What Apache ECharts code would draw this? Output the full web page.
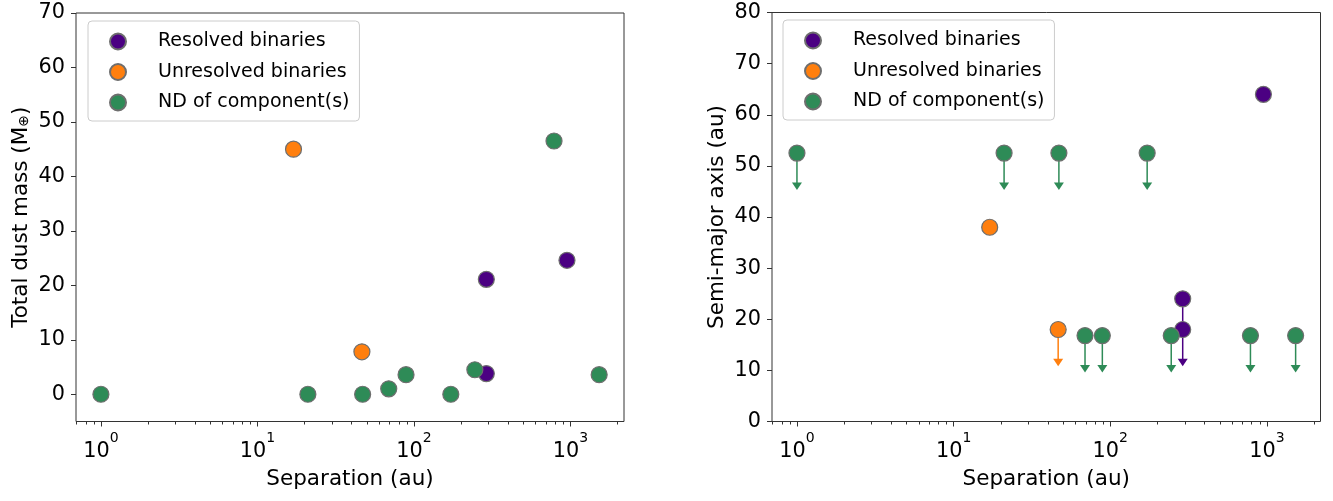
<!DOCTYPE html>
<html><head><meta charset="utf-8">
<script src="https://cdn.jsdelivr.net/npm/echarts@6/dist/echarts.min.js"></script>
<style>html,body{margin:0;padding:0;background:#fff}#c{width:1333px;height:501px}</style>
</head><body><div id="c"></div>
<script>
const FONT = '"DejaVu Sans", sans-serif';
const seriesNames = ['Resolved binaries', 'Unresolved binaries', 'ND of component(s)'];
const seriesColors = ['#4b0082', '#ff7f0e', '#2e8b57'];

// Left panel: total dust mass vs separation
const resolvedSepL = [290, 950, 290];
const resolvedMassL = [21.1, 24.6, 3.8];
const unresolvedSepL = [17, 46.5];
const unresolvedMassL = [45.0, 7.8];
const ndSepL = [1, 21, 47, 69, 89, 172, 245, 785, 1525];
const ndMassL = [0, 0, 0, 1.0, 3.6, 0, 4.5, 46.5, 3.6];

// Right panel: semi-major axis vs separation (1 = upper limit)
const resolvedSepR = [950, 290, 290];
const resolvedAxisR = [64, 24, 18];
const resolvedUpperR = [0, 1, 1];
const unresolvedSepR = [17, 46.5];
const unresolvedAxisR = [38, 18];
const unresolvedUpperR = [0, 1];
const ndSepR = [1, 21, 47, 172, 69, 89, 245, 785, 1525];
const ndAxisR = [52.5, 52.5, 52.5, 52.5, 16.8, 16.8, 16.8, 16.8, 16.8];
const ndUpperR = [1, 1, 1, 1, 1, 1, 1, 1, 1];
const upperArrowLen = 7.2;

// Axes
const xRange = [0.693, 2198];
const xMajorTicks = [1, 10, 100, 1000];
const xMinorTicks = [0.7, 0.8, 0.9, 2, 3, 4, 5, 6, 7, 8, 9, 20, 30, 40, 50, 60, 70, 80, 90,
  200, 300, 400, 500, 600, 700, 800, 900, 2000];
const yRangeL = [-5, 70];
const yTicksL = [0, 10, 20, 30, 40, 50, 60, 70];
const yRangeR = [0, 80];
const yTicksR = [0, 10, 20, 30, 40, 50, 60, 70, 80];
const xTitle = 'Separation (au)';
const yTitleL = ['Total dust mass (M', '⊕', ')'];
const yTitleR = 'Semi-major axis (au)';

const AX = '#333';
const TICK_FS = 20.8, TITLE_FS = 21.5, LEG_FS = 19;
const zip = (a, b) => a.map((v, i) => [v, b[i]]);

function majorX(grid) {
  return {
    type: 'log', logBase: 10, gridIndex: grid, position: 'bottom', min: xRange[0], max: xRange[1],
    axisLine: { show: false, onZero: false }, splitLine: { show: false }, minorTick: { show: false },
    axisTick: { show: true, length: 5, lineStyle: { color: AX, width: 1 }, customValues: xMajorTicks },
    axisLabel: {
      customValues: xMajorTicks, margin: 10,
      formatter: v => '{b|10}{s|' + Math.round(Math.log10(v)) + '}',
      rich: {
        b: { fontSize: TICK_FS, fontFamily: FONT, color: '#000', padding: [10, 0, 0, 0], verticalAlign: 'bottom' },
        s: { fontSize: 14, fontFamily: FONT, color: '#000', verticalAlign: 'top' }
      }
    },
    name: xTitle, nameLocation: 'middle', nameGap: 47,
    nameTextStyle: { fontSize: TITLE_FS, fontFamily: FONT, color: '#000' }
  };
}
function minorX(grid) {
  return {
    type: 'log', logBase: 10, gridIndex: grid, position: 'bottom', min: xRange[0], max: xRange[1],
    axisLine: { show: false, onZero: false }, splitLine: { show: false }, axisLabel: { show: false },
    axisTick: { show: true, length: 3, lineStyle: { color: AX, width: 1 }, customValues: xMinorTicks }
  };
}
function yAx(grid, range, ticks, name, rich, gap) {
  return {
    type: 'value', gridIndex: grid, min: range[0], max: range[1],
    axisLine: { show: false, onZero: false }, splitLine: { show: false },
    axisTick: { show: true, length: 5, lineStyle: { color: AX, width: 1 }, customValues: ticks },
    axisLabel: { customValues: ticks, margin: 11, fontSize: TICK_FS, fontFamily: FONT, color: '#000' },
    name: name, nameLocation: 'middle', nameGap: gap,
    nameTextStyle: Object.assign({ fontSize: TITLE_FS, fontFamily: FONT, color: '#000' }, rich ? { rich } : {})
  };
}

function scatter(name, color, data, xi, yi) {
  return {
    type: 'scatter', name, xAxisIndex: xi, yAxisIndex: yi, symbol: 'circle', symbolSize: 16, z: 3,
    itemStyle: { color, borderColor: '#6e6e6e', borderWidth: 1.2, opacity: 1 },
    emphasis: { disabled: true }, data
  };
}
function arrows(color, seps, vals, flags, xi, yi) {
  const data = [];
  seps.forEach((s, i) => { if (flags[i]) data.push([s, vals[i], vals[i] - upperArrowLen]); });
  return {
    type: 'custom', xAxisIndex: xi, yAxisIndex: yi, z: 2, silent: true, data,
    encode: { x: 0, y: [1, 2] },
    renderItem: (params, api) => {
      const p0 = api.coord([api.value(0), api.value(1)]);
      const p1 = api.coord([api.value(0), api.value(2)]);
      const hh = 7.5, hw = 5;
      return {
        type: 'group', children: [
          { type: 'line', shape: { x1: p0[0], y1: p0[1], x2: p1[0], y2: p1[1] - hh + 1 },
            style: { stroke: color, lineWidth: 1.5 } },
          { type: 'polygon', shape: { points: [[p1[0] - hw, p1[1] - hh], [p1[0] + hw, p1[1] - hh], [p1[0], p1[1]]] },
            style: { fill: color } }
        ]
      };
    }
  };
}
function legend(left, top) {
  return {
    left, top, orient: 'vertical', padding: [10.5, 10, 8.5, 21], itemWidth: 16, itemHeight: 16, itemGap: 10.5,
    backgroundColor: '#fff', borderColor: '#cccccc', borderWidth: 1, borderRadius: 4,
    icon: 'circle', selectedMode: false,
    textStyle: { fontSize: LEG_FS, fontFamily: FONT, color: '#000', padding: [0, 0, 0, 27], lineHeight: 20 },
    data: seriesNames
  };
}

const chart = echarts.init(document.getElementById('c'), null, { renderer: 'canvas' });
chart.setOption({
  animation: false,
  backgroundColor: '#fff',
  grid: [
    { left: 76, top: 13, width: 548, height: 408.5, show: true, borderColor: AX, borderWidth: 1, backgroundColor: 'transparent' },
    { left: 772, top: 12.5, width: 548.5, height: 409, show: true, borderColor: AX, borderWidth: 1, backgroundColor: 'transparent' }
  ],
  xAxis: [majorX(0), minorX(0), majorX(1), minorX(1)],
  yAxis: [
    yAx(0, yRangeL, yTicksL, '{a|' + yTitleL[0] + '}{s|' + yTitleL[1] + '}{a|' + yTitleL[2] + '}',
      { a: { fontSize: TITLE_FS, fontFamily: FONT, color: '#000' },
        s: { fontSize: 14, fontFamily: FONT, color: '#000', padding: [7, 0, 0, 0] } }, 44),
    yAx(1, yRangeR, yTicksR, yTitleR, null, 44)
  ],
  legend: [legend(88, 21), legend(783, 20)],
  series: [
    scatter(seriesNames[0], seriesColors[0], zip(resolvedSepL, resolvedMassL), 0, 0),
    scatter(seriesNames[1], seriesColors[1], zip(unresolvedSepL, unresolvedMassL), 0, 0),
    scatter(seriesNames[2], seriesColors[2], zip(ndSepL, ndMassL), 0, 0),
    arrows(seriesColors[0], resolvedSepR, resolvedAxisR, resolvedUpperR, 2, 1),
    arrows(seriesColors[1], unresolvedSepR, unresolvedAxisR, unresolvedUpperR, 2, 1),
    arrows(seriesColors[2], ndSepR, ndAxisR, ndUpperR, 2, 1),
    scatter(seriesNames[0], seriesColors[0], zip(resolvedSepR, resolvedAxisR), 2, 1),
    scatter(seriesNames[1], seriesColors[1], zip(unresolvedSepR, unresolvedAxisR), 2, 1),
    scatter(seriesNames[2], seriesColors[2], zip(ndSepR, ndAxisR), 2, 1)
  ]
});
</script></body></html>
